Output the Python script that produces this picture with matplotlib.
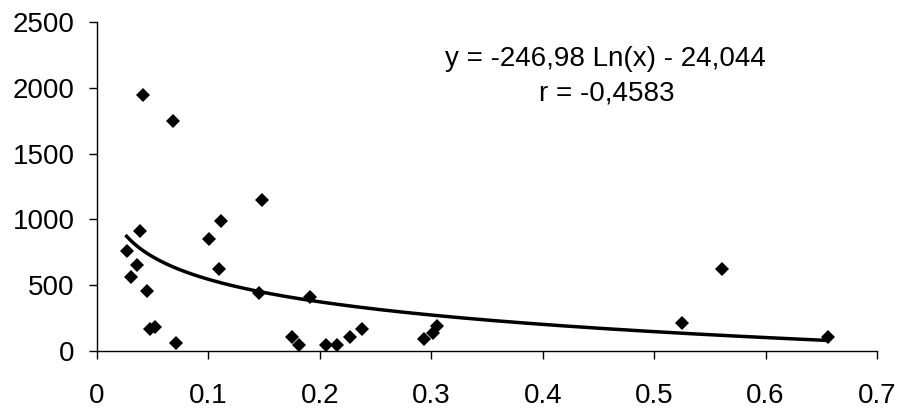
import matplotlib
matplotlib.use('Agg')
import matplotlib.pyplot as plt
import numpy as np

# scatter values
x_vals = [0.0409, 0.0678, 0.0385, 0.0266, 0.0361, 0.0304, 0.0448, 0.0480, 0.0522,
          0.0713, 0.1003, 0.1110, 0.1092, 0.1483, 0.1453, 0.1913, 0.1752, 0.1811,
          0.2056, 0.2151, 0.2271, 0.2379, 0.2936, 0.3017, 0.3047, 0.5249, 0.5607,
          0.6556]
y_vals = [1948, 1750, 911, 761, 652, 561, 457, 170, 183,
          58, 850, 989, 622, 1149, 439, 409, 109, 46,
          46, 46, 104, 167, 89, 135, 190, 215, 622,
          104]

# logarithmic trend line coefficients (as printed on the chart)
coef_a = -246.98
coef_b = -24.044
eq_text = 'y = -246,98 Ln(x) - 24,044'
r_text = 'r = -0,4583'

x_ticks = [0, 0.1, 0.2, 0.3, 0.4, 0.5, 0.6, 0.7]
x_tick_labels = ['0', '0.1', '0.2', '0.3', '0.4', '0.5', '0.6', '0.7']
y_ticks = [0, 500, 1000, 1500, 2000, 2500]

plt.rcParams['font.family'] = ['Liberation Sans', 'DejaVu Sans']

fig = plt.figure(figsize=(9, 4.08), dpi=100)
ax = fig.add_axes([97 / 900, 57 / 408, 780 / 900, 329 / 408])

xs = np.linspace(min(x_vals), max(x_vals), 200)
ax.plot(xs, coef_a * np.log(xs) + coef_b, color='black', lw=2.5, zorder=2)
ax.plot(x_vals, y_vals, 'D', color='black', ms=7, mew=0, zorder=3)

ax.set_xlim(0, 0.7)
ax.set_ylim(0, 2500)
ax.set_xticks(x_ticks)
ax.set_xticklabels(x_tick_labels, fontsize=20)
ax.set_yticks(y_ticks)
ax.set_yticklabels([str(v) for v in y_ticks], fontsize=20)
ax.tick_params(axis='both', direction='out', length=6, width=1, color='black')
ax.tick_params(axis='x', pad=17)
ax.tick_params(axis='y', pad=10)

for side in ['top', 'right']:
    ax.spines[side].set_visible(False)
for side in ['left', 'bottom']:
    ax.spines[side].set_linewidth(1)
    ax.spines[side].set_color('black')

fig.text(605 / 900, 1 - 66 / 408, eq_text, ha='center', va='baseline', fontsize=20)
fig.text(607 / 900, 1 - 100 / 408, r_text, ha='center', va='baseline', fontsize=20)

fig.savefig('out.png', dpi=100)
